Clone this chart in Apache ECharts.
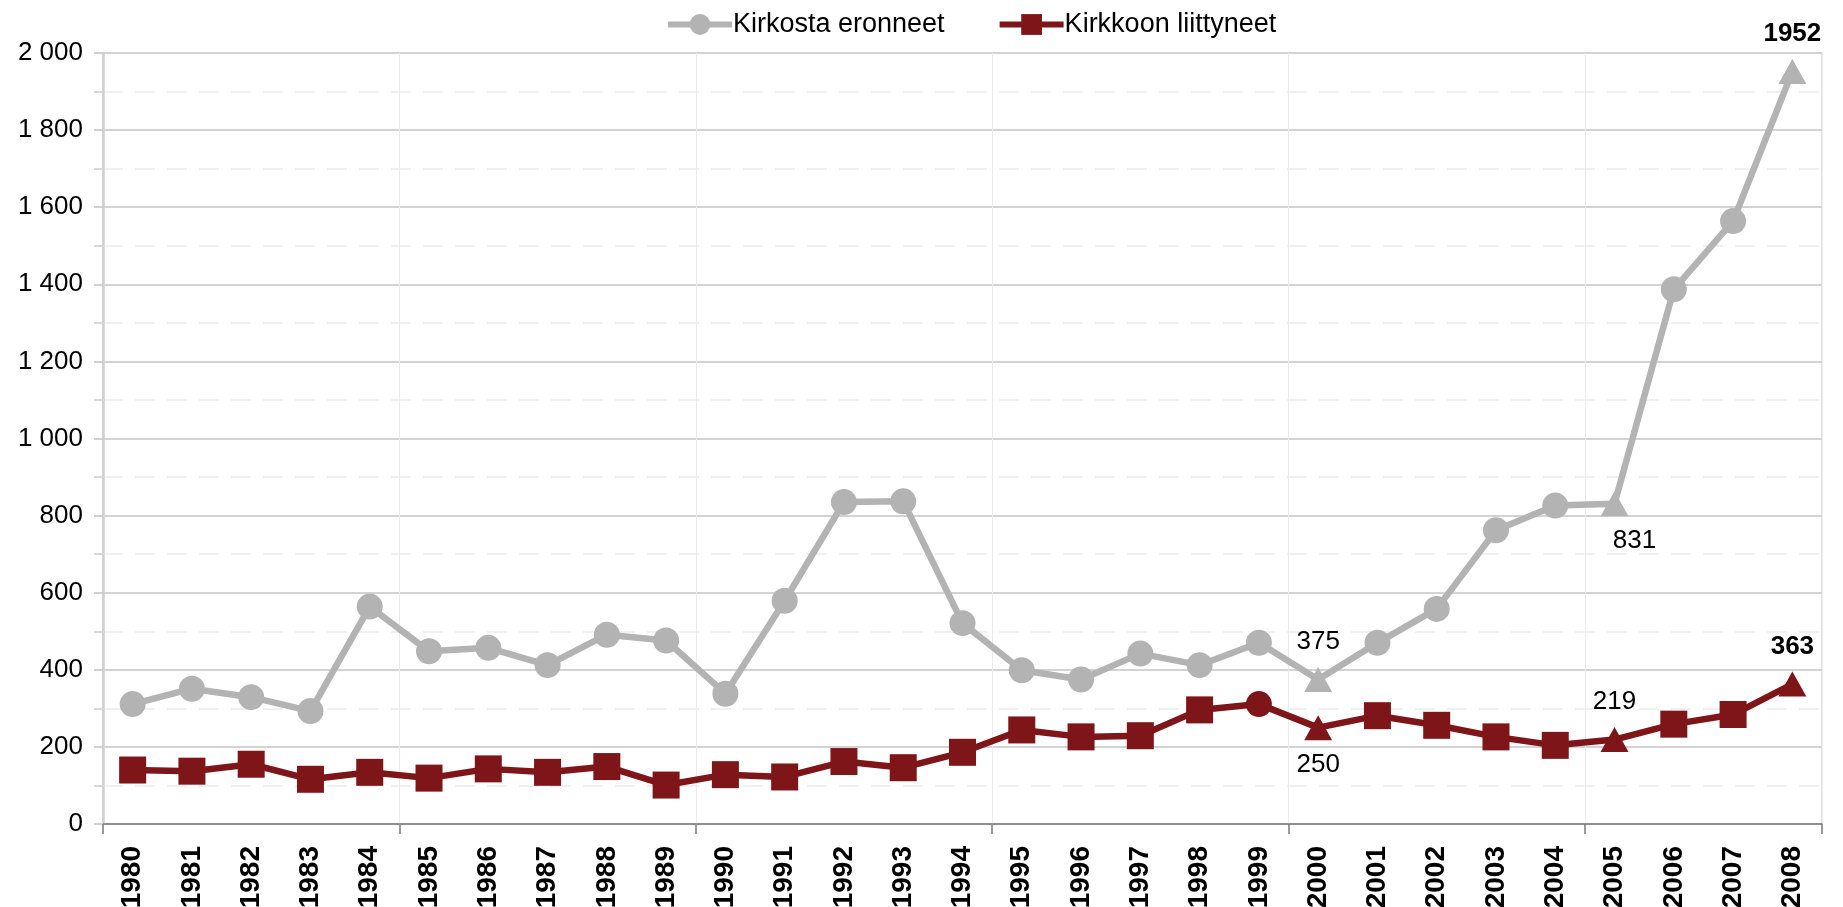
<!DOCTYPE html>
<html>
<head>
<meta charset="utf-8">
<script src="https://cdn.jsdelivr.net/npm/echarts@6/dist/echarts.min.js"></script>
<style>
  html, body { margin: 0; padding: 0; background: #fff; }
  #chart { width: 1843px; height: 907px; }
</style>
</head>
<body>
<div id="chart"></div>
<script>
// data
const years = ['1980', '1981', '1982', '1983', '1984', '1985', '1986', '1987', '1988', '1989',
  '1990', '1991', '1992', '1993', '1994', '1995', '1996', '1997', '1998', '1999',
  '2000', '2001', '2002', '2003', '2004', '2005', '2006', '2007', '2008'];
const eronneet = [311, 351, 329, 293, 564, 448, 457, 412, 491, 476,
  338, 579, 835, 837, 521, 399, 375, 442, 412, 470,
  375, 470, 558, 762, 826, 831, 1387, 1564, 1952];
const liittyneet = [140, 137, 155, 116, 134, 119, 143, 134, 149, 101,
  128, 122, 162, 146, 186, 244, 226, 229, 296, 311,
  250, 281, 256, 226, 204, 219, 259, 284, 363];
const yTicks = [0, 200, 400, 600, 800, 1000, 1200, 1400, 1600, 1800, 2000];

// highlighted years: [marker shape, label position, bold label]
const eronneetMarks = { '2000': ['triangle', 'top', false], '2005': ['triangle', 'bottom', false], '2008': ['triangle', 'top', true] };
const liittyneetMarks = { '1999': ['circle', null, false], '2000': ['triangle', 'bottom', false], '2005': ['triangle', 'top', false], '2008': ['triangle', 'top', true] };

const GRAY = '#b3b3b3';
const RED = '#7e1519';
const FONT = '"Liberation Sans", Arial, sans-serif';

const buildData = (values, marks) => values.map((v, i) => {
  const m = marks[years[i]];
  if (!m) return v;
  const item = { value: v, symbol: m[0], symbolSize: m[0] === 'triangle' ? [28, 25] : 26 };
  if (m[1]) {
    item.label = {
      show: true,
      position: m[1],
      distance: 12,
      offset: m[1] === 'bottom' && v > 500 ? [20, 0] : [0, 0],
      color: '#000',
      fontFamily: FONT,
      fontSize: 26,
      fontWeight: m[2] ? 'bold' : 'normal',
    };
  }
  return item;
});

const fmt = (v) => String(v).replace(/\B(?=(\d{3})+(?!\d))/g, ' ');
const everyFifth = (index) => index % 5 === 0;

const myChart = echarts.init(document.getElementById('chart'));
const option = {
  animation: false,
  backgroundColor: '#fff',
  legend: {
    top: 6,
    left: 660,
    itemWidth: 64,
    itemHeight: 26,
    itemGap: 52,
    lineStyle: { width: 6 },
    textStyle: { fontFamily: FONT, fontSize: 27, color: '#000', padding: [0, 0, 0, -4] },
    data: ['Kirkosta eronneet', 'Kirkkoon liittyneet'],
  },
  grid: {
    left: 103, right: 21, top: 53, bottom: 83,
    outerBoundsMode: 'none',
    show: true, borderColor: '#d6d6d6', borderWidth: 1.5,
  },
  xAxis: {
    type: 'category',
    data: years,
    boundaryGap: true,
    axisLine: { show: true, lineStyle: { color: '#7a7a7a', width: 1.5 } },
    axisTick: { show: true, interval: everyFifth, length: 10, lineStyle: { color: '#7a7a7a', width: 1.5 } },
    axisLabel: {
      interval: 0,
      rotate: 90,
      margin: 22,
      fontFamily: FONT,
      fontSize: 28,
      fontWeight: 'bold',
      color: '#000',
    },
    splitLine: { show: true, interval: everyFifth, lineStyle: { color: '#ececec', width: 1 } },
  },
  yAxis: {
    type: 'value',
    min: yTicks[0],
    max: yTicks[yTicks.length - 1],
    interval: 200,
    axisLine: { show: true, lineStyle: { color: '#d0d0d0', width: 2.5 } },
    axisTick: { show: true, length: 9, lineStyle: { color: '#d0d0d0', width: 2 } },
    minorTick: { show: true, splitNumber: 2, length: 9, lineStyle: { color: '#d8d8d8', width: 2 } },
    axisLabel: {
      formatter: fmt,
      margin: 20,
      fontFamily: FONT,
      fontSize: 26,
      color: '#000',
    },
    splitLine: { show: true, lineStyle: { color: '#d3d3d3', width: 2 } },
    minorSplitLine: { show: true, lineStyle: { color: '#ececec', width: 1.5, type: [20, 12] } },
  },
  series: [
    {
      name: 'Kirkosta eronneet',
      type: 'line',
      data: buildData(eronneet, eronneetMarks),
      symbol: 'circle',
      symbolSize: 26,
      z: 2,
      lineStyle: { width: 6.5, color: GRAY },
      itemStyle: { color: GRAY },
    },
    {
      name: 'Kirkkoon liittyneet',
      type: 'line',
      data: buildData(liittyneet, liittyneetMarks),
      symbol: 'rect',
      symbolSize: 27,
      z: 3,
      lineStyle: { width: 6.5, color: RED },
      itemStyle: { color: RED },
    },
  ],
};
myChart.setOption(option);
window.addEventListener('resize', () => myChart.resize());
</script>
</body>
</html>
